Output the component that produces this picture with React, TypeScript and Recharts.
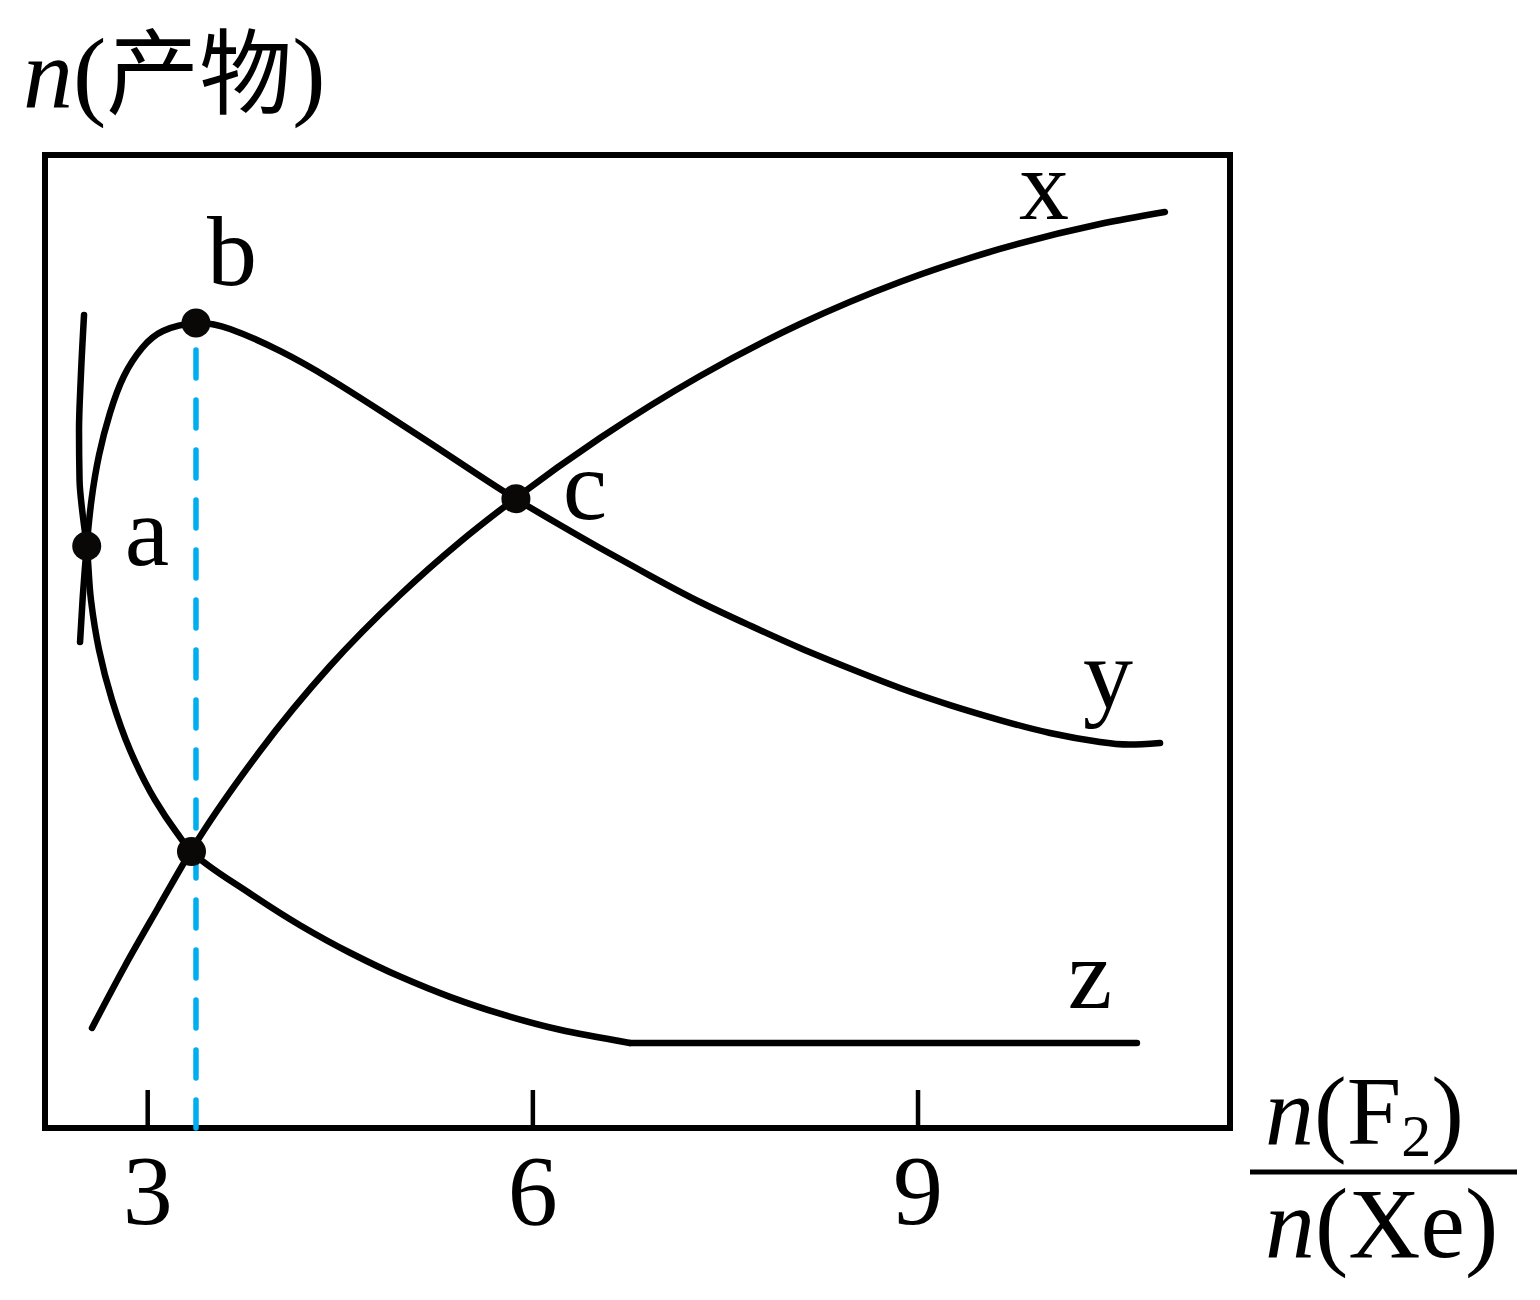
import React from 'react';
import {
  LineChart,
  Line,
  XAxis,
  YAxis,
  ReferenceArea,
  ReferenceLine,
  ReferenceDot,
} from 'recharts';

// ---------- data ----------
const X_DOMAIN: [number, number] = [2.2, 11.43];
const Y_DOMAIN: [number, number] = [0, 10];
const xTicks = [3, 6, 9];

// curve x (rising)
const seriesX = [
  { x: 2.566, y: 1.028 },
  { x: 2.823, y: 1.665 },
  { x: 3.08, y: 2.261 },
  { x: 3.337, y: 2.847 },
  { x: 3.875, y: 3.875 },
  { x: 4.42, y: 4.748 },
  { x: 4.965, y: 5.478 },
  { x: 5.432, y: 6.023 },
  { x: 5.868, y: 6.475 },
  { x: 6.523, y: 7.091 },
  { x: 7.302, y: 7.729 },
  { x: 8.081, y: 8.263 },
  { x: 8.859, y: 8.695 },
  { x: 9.638, y: 9.034 },
  { x: 10.417, y: 9.291 },
  { x: 10.923, y: 9.414 },
];

// curve y (peak at b)
const seriesY = [
  { x: 2.473, y: 4.995 },
  { x: 2.494, y: 5.457 },
  { x: 2.525, y: 5.982 },
  { x: 2.562, y: 6.454 },
  { x: 2.621, y: 6.917 },
  { x: 2.706, y: 7.348 },
  { x: 2.815, y: 7.729 },
  { x: 2.956, y: 8.016 },
  { x: 3.119, y: 8.191 },
  { x: 3.376, y: 8.273 },
  { x: 3.641, y: 8.212 },
  { x: 4.03, y: 7.986 },
  { x: 4.42, y: 7.698 },
  { x: 4.809, y: 7.374 },
  { x: 5.199, y: 7.04 },
  { x: 5.588, y: 6.701 },
  { x: 5.868, y: 6.465 },
  { x: 6.211, y: 6.197 },
  { x: 6.523, y: 5.961 },
  { x: 6.912, y: 5.678 },
  { x: 7.302, y: 5.406 },
  { x: 7.691, y: 5.164 },
  { x: 8.081, y: 4.933 },
  { x: 8.47, y: 4.722 },
  { x: 8.859, y: 4.522 },
  { x: 9.249, y: 4.347 },
  { x: 9.638, y: 4.193 },
  { x: 10.028, y: 4.06 },
  { x: 10.417, y: 3.967 },
  { x: 10.651, y: 3.941 },
  { x: 10.885, y: 3.957 },
];

// curve z (falling, then flat)
const seriesZ = [
  { x: 2.504, y: 8.356 },
  { x: 2.478, y: 7.688 },
  { x: 2.465, y: 7.174 },
  { x: 2.469, y: 6.66 },
  { x: 2.492, y: 6.321 },
  { x: 2.525, y: 5.982 },
  { x: 2.558, y: 5.427 },
  { x: 2.621, y: 4.913 },
  { x: 2.722, y: 4.399 },
  { x: 2.862, y: 3.885 },
  { x: 3.057, y: 3.371 },
  { x: 3.228, y: 3.032 },
  { x: 3.341, y: 2.842 },
  { x: 3.797, y: 2.41 },
  { x: 4.186, y: 2.084 },
  { x: 4.576, y: 1.801 },
  { x: 4.965, y: 1.556 },
  { x: 5.354, y: 1.348 },
  { x: 5.744, y: 1.175 },
  { x: 6.211, y: 1.01 },
  { x: 6.756, y: 0.874 },
];
const seriesZFlat = [
  { x: 6.756, y: 0.874 },
  { x: 10.705, y: 0.874 },
];

// marked points
const keyPoints = [
  { name: 'a', x: 2.525, y: 5.982 },
  { name: 'b', x: 3.376, y: 8.273 },
  { name: 'c', x: 5.868, y: 6.468 },
  { name: 'd', x: 3.341, y: 2.842 },
];
const dashedX = 3.376;
const dashedTopY = 8.273;

// text labels placed in data coordinates
const curveLabels = [
  { text: 'a', x: 2.994, y: 5.786 },
  { text: 'b', x: 3.657, y: 8.664 },
  { text: 'c', x: 6.406, y: 6.259 },
  { text: 'x', x: 9.981, y: 9.342 },
  { text: 'y', x: 10.479, y: 4.317 },
  { text: 'z', x: 10.339, y: 1.233 },
];

const yTitleParts = ['n', '(', '产物', ')'];
const xTitleNum = ['n', '(', 'F', '2', ')'];
const xTitleDen = ['n', '(', 'Xe', ')'];

// ---------- styles ----------
const SERIF = '"Liberation Serif", "Times New Roman", serif';
const CJK = '"Noto Sans CJK SC", sans-serif';
const BLACK = '#000000';
const DOT = '#0a0707';
const BLUE = '#00aeef';
const W = 1524;
const H = 1284;
const CURVE_W = 6.5;

const InwardTick = (props: any) => {
  const { x, y, payload } = props;
  return (
    <g>
      <line x1={x} y1={y} x2={x} y2={y - 38} stroke={BLACK} strokeWidth={4.5} />
      <text
        x={x}
        y={y + 96}
        textAnchor="middle"
        fontFamily={SERIF}
        fontSize={100}
        fill={BLACK}
      >
        {payload.value}
      </text>
    </g>
  );
};

const curveProps = {
  dataKey: 'y',
  stroke: BLACK,
  strokeWidth: CURVE_W,
  strokeLinecap: 'round' as const,
  dot: false,
  activeDot: false,
  isAnimationActive: false,
};

export default function App() {
  return (
    <div style={{ position: 'relative', width: W, height: H }}>
      <LineChart
        width={W}
        height={H}
        margin={{ top: 147, right: 302, bottom: 0, left: 37 }}
      >
        <XAxis
          type="number"
          dataKey="x"
          domain={X_DOMAIN}
          allowDataOverflow
          ticks={xTicks}
          height={164}
          axisLine={false}
          tickLine={false}
          tickSize={0}
          tickMargin={0}
          tick={<InwardTick />}
          interval={0}
        />
        <YAxis type="number" domain={Y_DOMAIN} allowDataOverflow hide width={0} />

        <ReferenceArea
          x1={X_DOMAIN[0]}
          x2={X_DOMAIN[1]}
          y1={Y_DOMAIN[0]}
          y2={Y_DOMAIN[1]}
          fill="none"
          fillOpacity={0}
          stroke={BLACK}
          strokeWidth={6}
          ifOverflow="visible"
        />

        <ReferenceLine
          segment={[
            { x: dashedX, y: Y_DOMAIN[0] },
            { x: dashedX, y: dashedTopY },
          ]}
          stroke={BLUE}
          strokeWidth={5.5}
          strokeDasharray="28 22"
          strokeLinecap="round"
          ifOverflow="visible"
        />

        <Line data={seriesX} type="monotoneX" {...curveProps} />
        <Line data={seriesY} type="natural" {...curveProps} />
        <Line data={seriesZ} type="monotoneY" {...curveProps} />
        <Line data={seriesZFlat} type="linear" {...curveProps} />

        {keyPoints.map((p) => (
          <ReferenceDot
            key={p.name}
            x={p.x}
            y={p.y}
            r={14.5}
            fill={DOT}
            stroke="none"
            ifOverflow="visible"
          />
        ))}

        {curveLabels.map((l) => (
          <ReferenceDot
            key={'lbl-' + l.text}
            x={l.x}
            y={l.y}
            r={1}
            ifOverflow="visible"
            shape={(p: any) => (
              <text
                x={p.cx}
                y={p.cy}
                textAnchor="middle"
                fontFamily={SERIF}
                fontSize={100}
                fill={BLACK}
              >
                {l.text}
              </text>
            )}
          />
        ))}
      </LineChart>

      <svg
        width={W}
        height={H}
        style={{
          position: 'absolute',
          left: 0,
          top: 0,
          pointerEvents: 'none',
          overflow: 'visible',
        }}
      >
        {/* y-axis title */}
        <text x={15} y={99} fontFamily={SERIF} fontSize={100} fill={BLACK}>
          <tspan fontStyle="italic">{yTitleParts[0]}</tspan>
          <tspan>{yTitleParts[1]}</tspan>
          <tspan fontFamily={CJK} fontSize={93}>
            {yTitleParts[2]}
          </tspan>
          <tspan>{yTitleParts[3]}</tspan>
        </text>

        {/* x-axis title as a fraction */}
        <text x={1257} y={1136} fontFamily={SERIF} fontSize={98} fill={BLACK}>
          <tspan fontStyle="italic">{xTitleNum[0]}</tspan>
          <tspan>{xTitleNum[1]}</tspan>
          <tspan>{xTitleNum[2]}</tspan>
          <tspan fontSize={60} dy={12}>
            {xTitleNum[3]}
          </tspan>
          <tspan dy={-12}>{xTitleNum[4]}</tspan>
        </text>
        <line x1={1242} y1={1164} x2={1509} y2={1164} stroke={BLACK} strokeWidth={5} />
        <text x={1257} y={1249} fontFamily={SERIF} fontSize={100} fill={BLACK}>
          <tspan fontStyle="italic">{xTitleDen[0]}</tspan>
          <tspan>{xTitleDen[1]}</tspan>
          <tspan>{xTitleDen[2]}</tspan>
          <tspan>{xTitleDen[3]}</tspan>
        </text>
      </svg>
    </div>
  );
}
